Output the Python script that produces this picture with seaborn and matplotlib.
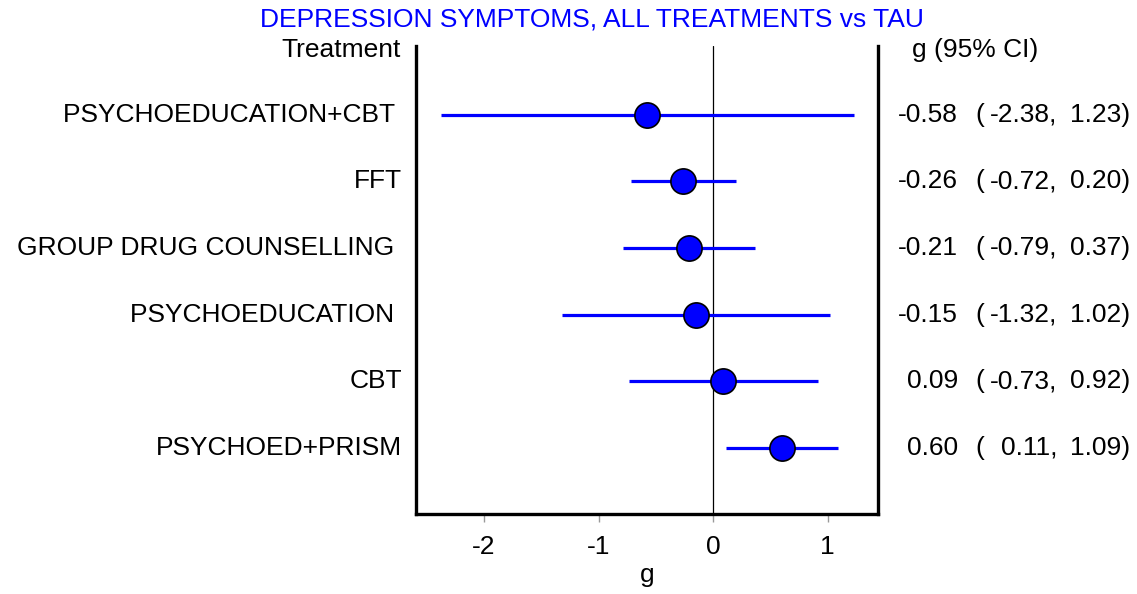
import matplotlib
matplotlib.use("Agg")
import matplotlib.pyplot as plt
import seaborn as sns
import pandas as pd

treatments = ["PSYCHOEDUCATION+CBT ", "FFT", "GROUP DRUG COUNSELLING ",
              "PSYCHOEDUCATION ", "CBT", "PSYCHOED+PRISM"]
g_values = [-0.58, -0.26, -0.21, -0.15, 0.09, 0.60]
ci_lower = [-2.38, -0.72, -0.79, -1.32, -0.73, 0.11]
ci_upper = [1.23, 0.20, 0.37, 1.02, 0.92, 1.09]
x_ticks = [-2, -1, 0, 1]

sns.set_theme(style="white")
plt.rcParams['font.family'] = ['Liberation Sans', 'DejaVu Sans']
plt.rcParams['text.color'] = 'black'
plt.rcParams['xtick.color'] = 'black'
plt.rcParams['axes.labelcolor'] = 'black'

FS = 19

df = pd.DataFrame({"Treatment": treatments, "g": g_values,
                   "lo": ci_lower, "hi": ci_upper})
df["row"] = range(len(df))

fig = plt.figure(figsize=(11.37, 5.94), dpi=100)
ax = fig.add_axes([416/1137, 1-514/594, (878-416)/1137, (514-46)/594])

ax.axvline(0, color="black", lw=0.9, zorder=1)
ax.hlines(df["row"], df["lo"], df["hi"], color="#0000ff", lw=2.3, zorder=2)
sns.scatterplot(data=df, x="g", y="row", ax=ax, s=330, color="#0000ff",
                edgecolor="black", linewidth=1.2, zorder=3, legend=False)

ax.set_xlim(-2.594, 1.441)
ax.set_ylim(len(df) - 1 + 0.99, -1.03)
ax.set_xticks(x_ticks)
ax.set_xticklabels([str(t) for t in x_ticks], fontsize=FS)
ax.set_yticks([])
ax.set_ylabel("")
ax.set_xlabel("g", fontsize=FS, labelpad=3)
ax.tick_params(axis="x", direction="out", length=6, width=1, color="#999999",
               labelcolor="black", pad=9, bottom=True)
for side in ["left", "right", "bottom"]:
    ax.spines[side].set_visible(True)
    ax.spines[side].set_linewidth(2.4)
    ax.spines[side].set_color("black")
ax.spines["top"].set_visible(False)

# Left labels
for r, name in zip(df["row"], treatments):
    ax.annotate(name, xy=(0, r), xycoords=("figure fraction", "data"),
                xytext=(402/1137, 0), textcoords=("figure fraction", "offset points"),
                ha="right", va="center", fontsize=FS, color="black")
fig.text(401/1137, 1-50/594, "Treatment", ha="right", va="center", fontsize=FS,
         color="black")

# Right labels
fig.text(975/1137, 1-50/594, "g (95% CI)", ha="center", va="center", fontsize=FS,
         color="black")
for r, gv, lo, hi in zip(df["row"], g_values, ci_lower, ci_upper):
    parts = [(958, f"{gv:.2f}", "right"), (975, "(", "left"),
             (1057, f"{lo:.2f},", "right"), (1130, f"{hi:.2f})", "right")]
    for xp, txt, ha in parts:
        ax.annotate(txt, xy=(0, r), xycoords=("figure fraction", "data"),
                    xytext=(xp/1137, 0), textcoords=("figure fraction", "offset points"),
                    ha=ha, va="center", fontsize=FS, color="black",
                    annotation_clip=False)

fig.text(592/1137, 1-20/594, "DEPRESSION SYMPTOMS, ALL TREATMENTS vs TAU",
         ha="center", va="center", fontsize=FS, color="#0000ff")

fig.savefig("out.png", dpi=100)
